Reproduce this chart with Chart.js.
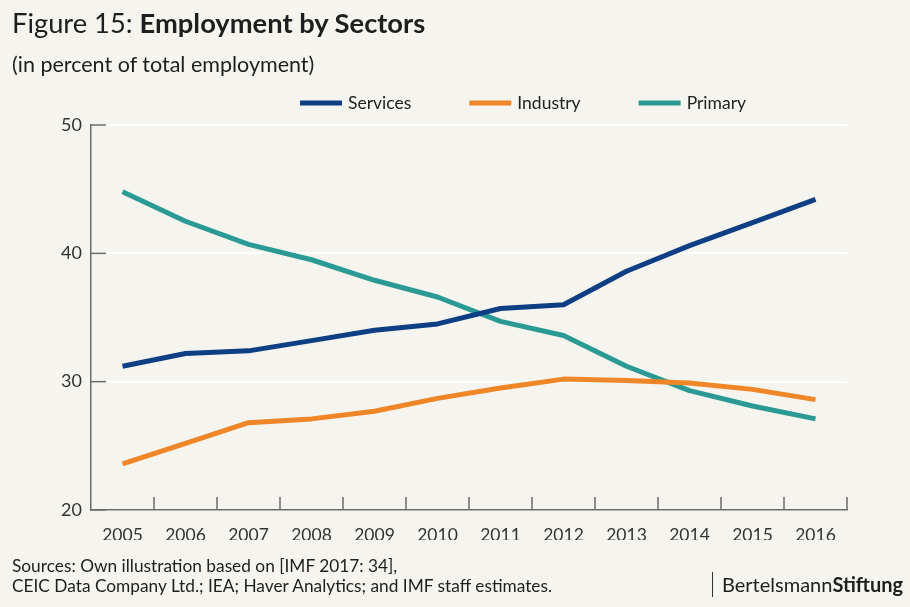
<!DOCTYPE html>
<html>
<head>
<meta charset="utf-8">
<script src="https://cdn.jsdelivr.net/npm/chart.js@4.4.1/dist/chart.umd.min.js"></script>
<style>
  body { margin: 0; background: #f5f4ee; font-family: Lato, sans-serif; color: #1e1e1e; }
  #wrap { position: relative; width: 910px; height: 607px; overflow: hidden; }
  #wrap canvas { position: absolute; left: 0; top: 0; }
  .txt { position: absolute; white-space: nowrap; }
  #title { left: 12px; top: 6px; font-size: 27.3px; }
  #title b { font-weight: 700; }
  #sub { left: 12px; top: 51px; font-size: 21.5px; }
  #src { left: 12px; top: 556px; font-size: 17.3px; line-height: 20px; }
  #brand { left: 722px; top: 572px; font-size: 20px; }
  #bar { position: absolute; left: 712px; top: 572px; width: 1px; height: 25px; background: #333; }
</style>
</head>
<body>
<div id="wrap">
  <canvas id="myChart" width="910" height="607"></canvas>
  <div class="txt" id="title">Figure 15: <b>Employment by Sectors</b></div>
  <div class="txt" id="sub">(in percent of total employment)</div>
  <div class="txt" id="src">Sources: Own illustration based on [IMF 2017: 34],<br>CEIC Data Company Ltd.; IEA; Haver Analytics; and IMF staff estimates.</div>
  <div id="bar"></div>
  <div class="txt" id="brand">Bertelsmann<b>Stiftung</b></div>
</div>
<script>
// employment shares, percent of total
const years = ['2005','2006','2007','2008','2009','2010','2011','2012','2013','2014','2015','2016'];
const services = [31.2, 32.2, 32.4, 33.2, 34.0, 34.5, 35.7, 36.0, 38.6, 40.6, 42.4, 44.2];
const industry = [23.6, 25.2, 26.8, 27.1, 27.7, 28.7, 29.5, 30.2, 30.1, 29.9, 29.4, 28.6];
const primary  = [44.8, 42.5, 40.7, 39.5, 37.9, 36.6, 34.7, 33.6, 31.2, 29.3, 28.1, 27.1];
const yTicks = [20, 30, 40, 50];

const axisGrey = '#6b6b6b';

// short grey ticks pointing into the plot, like the printed figure
const innerTicks = {
  id: 'innerTicks',
  beforeDatasetsDraw(chart) {
    const {ctx, chartArea, scales} = chart;
    ctx.save();
    ctx.strokeStyle = axisGrey;
    ctx.lineWidth = 1.5;
    yTicks.forEach(v => {
      const py = scales.y.getPixelForValue(v);
      ctx.beginPath();
      ctx.moveTo(chartArea.left, py);
      ctx.lineTo(chartArea.left + 15, py);
      ctx.stroke();
    });
    const n = years.length;
    for (let i = 0; i < n; i++) {
      const px = i < n - 1
        ? (scales.x.getPixelForValue(i) + scales.x.getPixelForValue(i + 1)) / 2
        : chartArea.right;
      ctx.beginPath();
      ctx.moveTo(px, chartArea.bottom);
      ctx.lineTo(px, chartArea.bottom - 13);
      ctx.stroke();
    }
    ctx.restore();
  }
};

// legend row above the plot
const lineLegend = {
  id: 'lineLegend',
  afterDraw(chart) {
    const ctx = chart.ctx;
    ctx.save();
    ctx.font = '17.5px Lato, sans-serif';
    ctx.textBaseline = 'middle';
    let x = 300;
    const y = 103;
    chart.data.datasets.forEach(ds => {
      ctx.fillStyle = ds.borderColor;
      ctx.fillRect(x, y - 2.5, 42, 5);
      x += 48;
      ctx.fillStyle = '#222';
      ctx.fillText(ds.label, x, y);
      x += ctx.measureText(ds.label).width + 58;
    });
    ctx.restore();
  }
};

const ctx = document.getElementById('myChart');
new Chart(ctx, {
  type: 'line',
  data: {
    labels: years,
    datasets: [
      { label: 'Services', data: services, borderColor: '#0e3f85' },
      { label: 'Industry', data: industry, borderColor: '#ef8627' },
      { label: 'Primary',  data: primary,  borderColor: '#2b9a94' }
    ]
  },
  options: {
    responsive: false,
    animation: false,
    layout: { padding: { left: 31, right: 63, top: 125, bottom: 67 } },
    elements: {
      line: { borderWidth: 5, tension: 0, borderJoinStyle: 'round', fill: false },
      point: { radius: 0 }
    },
    plugins: {
      legend: { display: false },
      tooltip: { enabled: false }
    },
    scales: {
      x: {
        offset: true,
        afterFit: s => { s.height = 30; },
        grid: { display: false },
        border: { color: axisGrey, width: 1.5 },
        ticks: { padding: 7, color: '#333', font: { family: 'Lato', size: 17.5 } }
      },
      y: {
        min: 20,
        max: 50,
        afterFit: s => { s.width = 60; },
        afterBuildTicks: s => { s.ticks = yTicks.map(v => ({ value: v })); },
        grid: { color: '#ffffff', lineWidth: 2, drawTicks: false },
        border: { color: axisGrey, width: 1.5 },
        ticks: { padding: 9, color: '#333', font: { family: 'Lato', size: 18 } }
      }
    }
  },
  plugins: [innerTicks, lineLegend]
});
</script>
</body>
</html>
